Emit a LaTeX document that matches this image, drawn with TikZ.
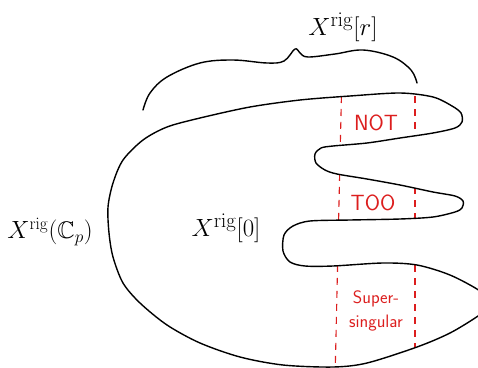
\documentclass[tikz,border=0pt]{standalone}
\usepackage{amsmath, amssymb}
\usepackage{tikz}
\usetikzlibrary{calc}
\usepackage{xcolor}
\definecolor{penred}{HTML}{DC1E1E}

\begin{document}
\begin{tikzpicture}[x=1pt, y=-1pt,
    outline/.style={line width=1.4pt, line join=round, line cap=round},
    cutline/.style={penred, line width=1.1pt, dash pattern=on 7pt off 6pt},
    biglbl/.style={font=\fontsize{28}{32}\selectfont},
    redlbl/.style={penred, font=\sffamily\fontsize{22}{24}\selectfont, align=center},
  ]
    \useasboundingbox (0,0) rectangle (478,367);
    \clip (0,0) rectangle (478,367);

    % the space with its three fingers
    \def\blob{plot[smooth cycle, tension=0.5] coordinates {
      (167,127) (200,118) (250,107) (300,100) (350,96) (400,93) (433,97)
      (452,106) (461,113) (462,122) (455,128) (433,133) (400,138) (367,143)
      (333,146) (321,148) (315,154) (316,163) (325,170) (337,174) (367,179)
      (400,185) (433,192) (455,196) (463,201) (462,208) (455,212) (433,217)
      (400,219) (350,220) (310,221) (293,226) (284,235) (283,251) (290,262)
      (305,266) (333,266) (383,263) (417,265) (450,275) (480,291) (492,304)
      (478,316) (450,333) (417,347) (367,363) (333,367) (283,365) (240,357)
      (200,343) (167,325) (140,303) (123,283) (113,257) (109,233) (108,207)
      (113,183) (123,160) (143,140)}}

    \begin{scope}
      \clip \blob;
      \draw[cutline] (342,70) -- (335,380);
      \draw[cutline] (415,70) -- (415,380);
    \end{scope}
    \draw[outline] \blob;

    % brace over the fingers
    \draw[outline] plot[smooth, tension=0.6] coordinates {
      (143,110) (150,93) (167,77) (200,63) (233,60) (267,63) (284,61)
      (295,49) (300,53) (308,57) (335,54) (363,50) (393,57) (411,70) (417,83)};

    \node[biglbl] (rlbl) at (343,27) {$X^{\mathrm{rig}}[r]$};
    \node[biglbl, font=\fontsize{24}{28}\selectfont] (cplbl) at (50,232) {$X^{\mathrm{rig}}(\mathbb{C}_p)$};
    \node[biglbl] (zlbl) at (226,228) {$X^{\mathrm{rig}}[0]$};

    \node[redlbl] (notlbl) at (376,123) {NOT};
    \node[redlbl] (toolbl) at (373,203) {TOO};
    \node[redlbl, font=\sffamily\fontsize{18}{24}\selectfont] (sslbl) at (376,311) {Super-\\singular};
  \end{tikzpicture}
\end{document}
